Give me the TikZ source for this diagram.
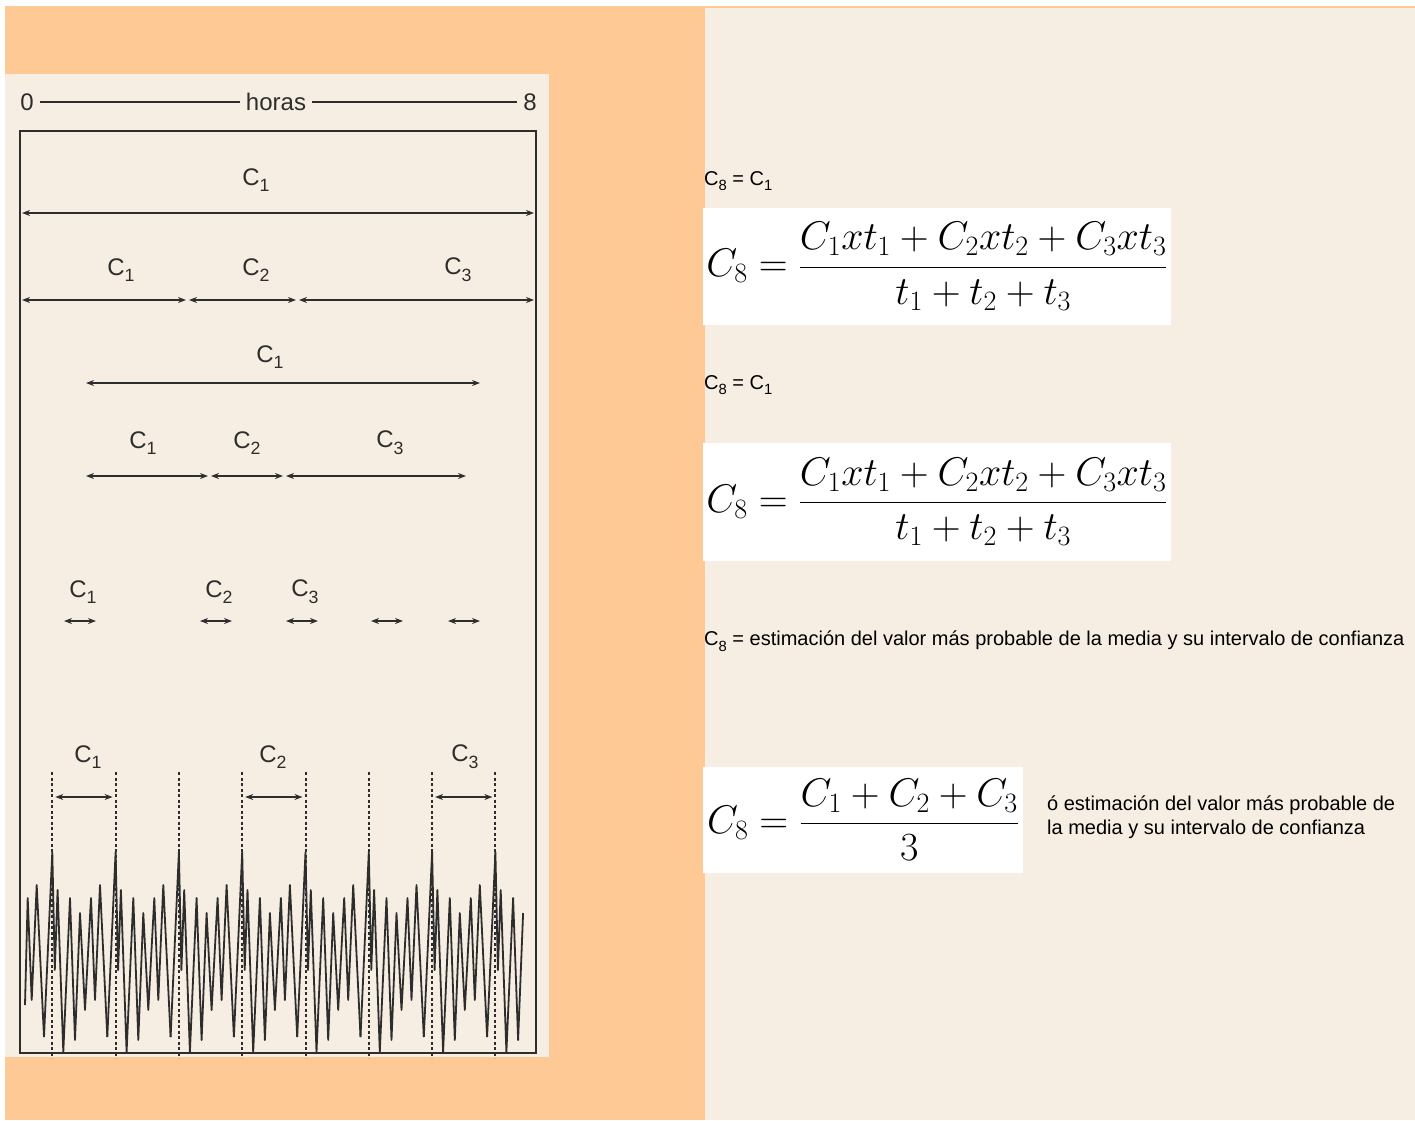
\RequirePackage{fix-cm}
\documentclass[tikz,border=0pt]{standalone}
\usepackage[no-math]{fontspec}
\setmainfont{Liberation Sans}
\usetikzlibrary{arrows.meta}

\definecolor{naranja}{RGB}{255,201,150}
\definecolor{crema}{RGB}{247,238,227}
\definecolor{tinta}{RGB}{45,45,45}

% subindice de texto
\newcommand{\bajo}[1]{\raisebox{-0.28em}{\scalebox{0.74}{#1}}}

\begin{document}
\begin{tikzpicture}[x=1pt, y=-1pt, >={Stealth[length=8pt,width=6pt]},
    marco/.style={draw=tinta, line width=2pt},
    cota/.style={<->, draw=tinta, line width=1.5pt},
    etiq/.style={text=tinta, font=\fontsize{24}{28}\selectfont, inner sep=1pt},
    cab/.style={etiq, inner sep=6pt},
    guia/.style={draw=tinta, line width=2pt, dash pattern=on 3pt off 2.5pt},
    onda/.style={draw=tinta, line width=1.8pt, line join=round},
    texto/.style={anchor=west, inner sep=0pt, align=left, font=\fontsize{20}{24}\selectfont},
    caja/.style={fill=white, inner sep=0pt, font=\fontsize{40}{46}\selectfont}]

    % fondos
    \useasboundingbox (0,0) rectangle (1415,1120);
    \fill[white] (0,0) rectangle (1415,1120);
    \fill[naranja] (5,6) rectangle (1415,1120);
    \fill[crema] (705,8) rectangle (1415,1120);
    \fill[crema] (5,74) rectangle (549,1057);

    % escala de horas
    \node[cab] (cero) at (27,102) {0};
    \node[cab] (horas) at (276,102) {horas};
    \node[cab] (ocho) at (530,102) {8};
    \draw[tinta, line width=1.4pt] (cero) -- (horas) -- (ocho);

    % --- muestreos ---

    % muestra unica
    \node[etiq] (m1) at (256,180) {C\bajo{1}};
    \draw[cota] (22,213) -- (534,213);

    % muestras consecutivas
    \node[etiq] (mc1) at (121,270) {C\bajo{1}};
    \node[etiq] (mc2) at (256,270) {C\bajo{2}};
    \node[etiq] (mc3) at (458,270) {C\bajo{3}};
    \foreach \a/\b in {22/186, 189/296, 299/534}
        \draw[cota] (\a,300) -- (\b,300);

    % muestra unica parcial
    \node[etiq] (p1) at (270,357) {C\bajo{1}};
    \draw[cota] (86,383) -- (480,383);

    % muestras consecutivas parciales
    \node[etiq] (pc1) at (143,443) {C\bajo{1}};
    \node[etiq] (pc2) at (247,443) {C\bajo{2}};
    \node[etiq] (pc3) at (390,443) {C\bajo{3}};
    \foreach \a/\b in {86/208, 211/283, 286/466}
        \draw[cota] (\a,476) -- (\b,476);

    % muestras puntuales
    \node[etiq] (q1) at (83,592) {C\bajo{1}};
    \node[etiq] (q2) at (219,592) {C\bajo{2}};
    \node[etiq] (q3) at (305,592) {C\bajo{3}};
    \foreach \a in {64, 200, 286, 371, 448}
        \draw[cota] (\a,621) -- (\a+32,621);

    % --- señal periodica ---
    \node[etiq] (s1) at (88,757) {C\bajo{1}};
    \node[etiq] (s2) at (273,757) {C\bajo{2}};
    \node[etiq] (s3) at (465,757) {C\bajo{3}};

    \draw[onda] (25,1005) -- (27.7,898) -- (31.7,1000) -- (36.7,885) -- (44,1037);
    \foreach \k in {0,...,6}
        \draw[onda, xshift=\k*63.3pt] (44,1037) -- (52.3,852) -- (54.8,970) -- (57.6,890)
            -- (63.3,1052) -- (70,898) -- (75,1040) -- (80,913) -- (85,1010) -- (91,898)
            -- (95,1000) -- (100,885) -- (107.3,1037);
    \draw[onda, xshift=7*63.3pt] (44,1037) -- (52.3,852) -- (54.8,970) -- (57.6,890)
        -- (63.3,1052) -- (70,898) -- (75,1040) -- (80,913);

    \foreach \k in {0,...,7}
        \draw[guia] ({52.3+63.3*\k},772) -- ({52.3+63.3*\k},1058);
    \foreach \a in {52.3, 242.2, 432.1}
        \draw[cota] (\a+3,797) -- (\a+60.3,797);

    \draw[marco] (20,131) rectangle (536,1053);

    % --- formulas ---
    \node[texto] (ig1) at (704,181) {C\bajo{8} = C\bajo{1}};
    \node[caja, minimum width=468pt, minimum height=117pt] (f1) at (937,266.5)
        {$\displaystyle C_8=\frac{C_1xt_1+C_2xt_2+C_3xt_3}{t_1+t_2+t_3}$};

    \node[texto] (ig2) at (704,385) {C\bajo{8} = C\bajo{1}};
    \node[caja, minimum width=468pt, minimum height=118pt] (f2) at (937,502)
        {$\displaystyle C_8=\frac{C_1xt_1+C_2xt_2+C_3xt_3}{t_1+t_2+t_3}$};

    \node[texto] (def) at (704,641) {C\bajo{8} = estimación del valor más probable de la media y su intervalo de confianza};

    \node[caja, minimum width=320pt, minimum height=106pt] (f3) at (863,820)
        {$\displaystyle C_8=\frac{C_1+C_2+C_3}{3}$};
    \node[texto] (nota) at (1047,817) {ó estimación del valor más probable de\\la media y su intervalo de confianza};

\end{tikzpicture}
\end{document}
